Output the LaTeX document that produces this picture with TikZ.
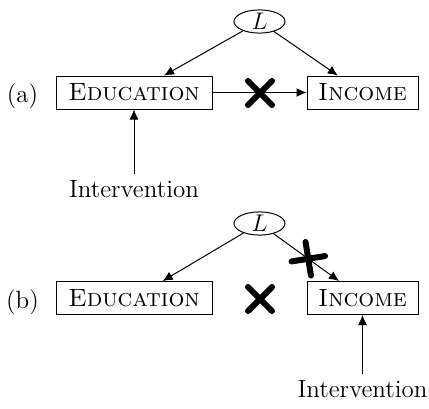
\documentclass[tikz,border=0pt]{standalone}
\usetikzlibrary{shapes.geometric,arrows.meta}
\begin{document}
\begin{tikzpicture}[x=0.5pt,y=-0.5pt,
  every node/.style={font=\fontsize{12.5}{15}\selectfont},
  var/.style={draw,line width=0.5pt,rectangle,minimum height=16.5pt,inner xsep=3pt,inner ysep=0pt},
  lat/.style={draw,line width=0.5pt,ellipse,minimum width=25.5pt,minimum height=11.5pt,inner sep=0pt},
  arr/.style={line width=0.5pt,-{Latex[length=5pt,width=4.5pt]}},
  cross/.style={line width=3pt,line cap=round},
  lab/.style={inner sep=0pt}
]
\useasboundingbox (0,0) rectangle (429,408);
% (a)
\node[lat] (La) at (259.5,21.5) {$L$};
\node[var,minimum width=78pt] (Ea) at (134,92.5) {\textsc{Education}};
\node[var,minimum width=55.5pt] (Ia) at (362.5,92.5) {\textsc{Income}};
\node[lab,anchor=base] (pa) at (22.5,102) {(a)};
\node[anchor=base,inner sep=2.8pt] (Va) at (134,197) {Intervention};
\draw[arr] (La) -- (Ea);
\draw[arr] (La) -- (Ia);
\draw[arr] (Ea) -- (Ia);
\draw[arr] (Va) -- (Ea);
\coordinate (Xa) at (260,93);
\draw[cross] ([shift={(-12,-12)}]Xa) -- ([shift={(12,12)}]Xa);
\draw[cross] ([shift={(-12,12)}]Xa) -- ([shift={(12,-12)}]Xa);
% (b)
\node[lat] (Lb) at (259.5,223.5) {$L$};
\node[var,minimum width=78pt] (Eb) at (134,298) {\textsc{Education}};
\node[var,minimum width=55.5pt] (Ib) at (362.5,298) {\textsc{Income}};
\node[lab,anchor=base] (pb) at (22.5,308) {(b)};
\node[anchor=base,inner sep=2.8pt] (Vb) at (362.5,397) {Intervention};
\draw[arr] (Lb) -- (Eb);
\draw[arr] (Lb) -- (Ib);
\draw[arr] (Vb) -- (Ib);
\coordinate (Xb) at (260,299);
\draw[cross] ([shift={(-12,-12)}]Xb) -- ([shift={(12,12)}]Xb);
\draw[cross] ([shift={(-12,12)}]Xb) -- ([shift={(12,-12)}]Xb);
\path (Lb) -- (Ib) node[pos=0.53,sloped,inner sep=0pt] (Xd) {\tikz{\draw[cross] (-6pt,-6pt) -- (6pt,6pt) (-6pt,6pt) -- (6pt,-6pt);}};
\end{tikzpicture}
\end{document}
